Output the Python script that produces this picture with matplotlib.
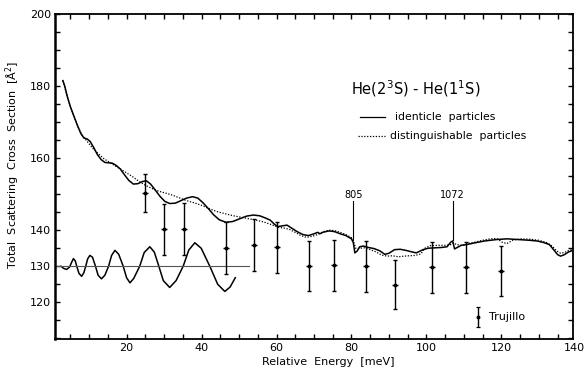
import matplotlib
matplotlib.use("Agg")
import matplotlib.pyplot as plt
from matplotlib.ticker import FixedLocator, FuncFormatter

plt.rcParams['font.family'] = ['DejaVu Sans']
plt.rcParams['mathtext.fontset'] = 'dejavusans'

# identical particles (solid)
ident_x = [3.0, 3.5, 4.2, 5.0, 6.0, 7.0, 7.8, 8.6, 9.5, 10.3, 11.2, 12.2, 13.2, 14.2,
           15.2, 16.2, 17.2, 18.3, 19.5, 20.6, 21.8, 23.0, 24.2, 25.3, 26.4, 27.6,
           28.9, 30.2, 31.5, 33.0, 34.5, 36.0, 37.6, 39.0, 40.4, 41.8, 43.2, 44.7,
           46.5, 48.3, 50.0, 52.0, 53.8, 55.5, 57.0, 58.3, 59.5, 60.4, 61.5, 62.8,
           64.0, 65.5, 67.0, 68.5, 70.0, 71.0, 71.6, 72.3, 74.0, 75.5, 77.0, 78.5,
           80.0, 80.5, 80.9, 81.5, 82.2, 83.2, 84.5, 86.0, 87.5, 88.9, 90.0, 91.5,
           93.0, 94.5, 96.0, 97.3, 99.1, 100.5, 102.2, 104.0, 105.5, 106.5, 107.0,
           107.5, 108.2, 109.3, 110.7, 113.0, 115.5, 118.7, 121.5, 124.5, 127.5,
           129.5, 131.2, 132.8, 134.0, 135.0, 135.8, 136.8, 137.8, 138.8]
ident_y = [181.5, 180.0, 177.0, 174.3, 171.5, 168.8, 166.8, 165.6, 165.3, 164.6, 163.0,
           161.0, 159.6, 158.8, 158.7, 158.6, 158.0, 157.0, 155.3, 153.8, 152.8, 152.9,
           153.5, 153.7, 152.8, 151.2, 149.4, 148.0, 147.4, 147.5, 148.2, 148.9, 149.3,
           148.9, 147.6, 146.0, 144.3, 142.9, 142.2, 142.4, 143.1, 143.9, 144.2, 144.0,
           143.4, 142.8, 141.6, 141.0, 141.2, 141.4, 140.6, 139.6, 138.8, 138.5, 139.0,
           139.4, 139.0, 139.4, 139.8, 139.6, 139.0, 138.5, 137.6, 136.5, 133.7, 134.2,
           135.4, 135.6, 135.2, 134.9, 134.3, 133.3, 133.6, 134.6, 134.7, 134.4, 134.0,
           133.7, 134.6, 135.0, 135.1, 135.2, 135.4, 136.7, 137.0, 134.8, 135.2, 135.8,
           136.0, 136.5, 137.0, 137.4, 137.6, 137.4, 137.2, 137.0, 136.6, 136.0, 134.5,
           133.2, 132.8, 133.2, 133.9, 134.3]

# distinguishable particles (dotted)
dist_x = [3.0, 4.2, 5.0, 6.0, 7.0, 8.0, 9.5, 11.0, 12.5, 14.0, 15.5, 17.0, 18.5, 20.0,
          21.8, 23.5, 25.0, 26.5, 28.0, 30.0, 32.0, 34.0, 36.0, 38.0, 40.0, 42.0, 44.0,
          46.5, 48.5, 50.5, 52.5, 54.5, 56.5, 58.5, 60.4, 62.0, 63.5, 65.0, 66.5, 68.0,
          69.5, 71.0, 72.5, 74.0, 75.5, 77.0, 78.5, 80.0, 80.7, 81.1, 81.6, 82.3, 83.5,
          85.0, 86.5, 88.0, 89.5, 91.0, 92.5, 94.0, 95.5, 97.0, 98.5, 99.6, 101.0, 103.0,
          105.0, 106.5, 107.2, 108.0, 109.5, 111.0, 113.0, 115.0, 117.0, 118.8, 120.3,
          121.5, 123.0, 125.0, 127.5, 130.0, 132.0, 133.5, 134.8, 135.8, 136.8, 137.8,
          138.8]
dist_y = [181.5, 177.0, 174.3, 171.5, 168.8, 166.6, 164.6, 162.7, 161.2, 159.8, 158.8,
          157.8, 156.9, 155.9, 154.7, 153.4, 152.5, 151.7, 151.0, 150.4, 149.8, 149.0,
          148.2, 147.6, 146.9, 146.0, 145.2, 144.5, 144.0, 143.6, 143.2, 142.8, 142.3,
          141.6, 140.8, 140.6, 140.2, 139.4, 138.5, 138.0, 138.3, 138.8, 139.6, 140.0,
          139.9, 139.4, 138.8, 137.9, 136.4, 135.0, 134.9, 135.0, 135.1, 134.6, 134.0,
          133.1, 132.8, 132.9, 132.6, 132.8, 132.9, 133.0, 133.4, 135.0, 135.7, 135.8,
          135.8, 136.0, 136.5, 136.0, 135.8, 136.3, 136.7, 137.2, 137.6, 137.7, 136.6,
          136.3, 137.2, 137.6, 137.5, 137.2, 136.6, 135.6, 134.2, 133.6, 133.8, 134.3,
          134.6]

# low-energy oscillating curve about the 130 reference level
osc_x = [2.5, 3.2, 4.0, 4.8, 5.3, 5.8, 6.3, 6.7, 7.3, 8.0, 8.6, 9.1, 9.6, 10.2, 10.9,
         11.7, 12.4, 13.3, 14.2, 15.2, 16.0, 16.9, 17.9, 19.1, 20.0, 20.9, 21.9, 23.5,
         24.7, 26.2, 27.4, 28.6, 29.8, 31.5, 33.2, 35.1, 36.6, 38.2, 39.9, 42.2, 44.3,
         46.2, 47.6, 49.0]
osc_y = [130.0, 129.4, 129.1, 129.8, 131.0, 132.1, 131.5, 130.0, 128.0, 127.2, 128.2,
         130.0, 132.0, 133.0, 132.5, 130.0, 127.5, 126.5, 127.5, 130.0, 133.0, 134.4,
         133.3, 130.0, 126.8, 125.4, 126.6, 130.0, 133.8, 135.4, 133.9, 130.0, 126.0,
         124.1, 126.0, 130.0, 134.5, 136.5, 135.0, 130.0, 125.0, 123.0, 124.2, 126.8]
ref_level = 130.0
ref_x = [0.9, 52.7]

# Trujillo measurements
meas_x = [24.9, 30.0, 35.4, 46.5, 53.9, 60.2, 68.6, 75.4, 83.8, 91.5, 101.6, 110.5, 120.0]
meas_y = [150.3, 140.2, 140.4, 135.0, 136.0, 135.2, 130.0, 130.2, 130.0, 124.9, 129.7, 129.7, 128.6]
meas_err = [5.2, 7.0, 7.2, 7.2, 7.2, 7.1, 7.0, 7.1, 7.1, 6.8, 7.1, 7.1, 7.0]

# marked resonance energies
res_x = [80.5, 107.0]
res_labels = ['805', '1072']

x_labels = [20, 40, 60, 80, 100, 120, 140]
y_labels = [120, 130, 140, 160, 180, 200]

fig = plt.figure(figsize=(5.84, 3.72), dpi=100)
ax = fig.add_axes([55 / 584, 1 - 339 / 372, 518 / 584, 325 / 372])
ax.set_xlim(0.9, 139.1)
ax.set_ylim(109.8, 200)

ax.plot(ident_x, ident_y, color='black', lw=1.1, solid_joinstyle='round')
ax.plot(dist_x, dist_y, color='black', lw=0.9, ls=(0, (1, 1.3)))
ax.plot(osc_x, osc_y, color='black', lw=1.1, solid_joinstyle='round')
ax.plot(ref_x, [ref_level, ref_level], color='#555555', lw=0.8)

ax.errorbar(meas_x, meas_y, yerr=meas_err, fmt='_', color='black', ms=5, mew=1.0,
            elinewidth=1.0, capsize=1.6, capthick=0.9)
ax.plot(meas_x, meas_y, 'o', color='black', ms=1.8)

# legend entry for the measurements
ax.errorbar([113.8], [116.0], yerr=[2.8], fmt='o', color='black', ms=1.8,
            elinewidth=1.0, capsize=1.6, capthick=0.9)
ax.text(116.6, 116.0, 'Trujillo', fontsize=8, va='center', ha='left')

for rx, lab in zip(res_x, res_labels):
    ax.plot([rx, rx], [137.4, 148.0], color='black', lw=0.8)
    ax.text(rx, 148.4, lab, fontsize=7, ha='center', va='bottom')

ax.text(80.0, 179.2, r'He(2$^3$S) - He(1$^1$S)', fontsize=10.5, ha='left', va='center')
ax.plot([82.2, 88.9], [171.5, 171.5], color='black', lw=0.9)
ax.text(91.5, 171.5, 'identicle  particles', fontsize=7.8, ha='left', va='center')
ax.plot([81.8, 88.9], [166.1, 166.1], color='black', lw=0.9, ls=(0, (1, 1.3)))
ax.text(90.4, 166.1, 'distinguishable  particles', fontsize=7.8, ha='left', va='center')

ax.set_xlabel('Relative  Energy  [meV]', fontsize=8, labelpad=1)
ax.xaxis.set_label_coords(0.527, -0.055)
ax.set_ylabel('Total  Scattering  Cross  Section  [Å$^2$]', fontsize=8)
ax.yaxis.set_label_coords(-0.063, 0.537)

ax.xaxis.set_major_locator(FixedLocator(list(range(5, 140, 5))))
ax.yaxis.set_major_locator(FixedLocator(list(range(110, 201, 5))))
ax.xaxis.set_major_formatter(FuncFormatter(lambda v, p: f'{int(round(v))}' if int(round(v)) in x_labels else ''))
ax.yaxis.set_major_formatter(FuncFormatter(lambda v, p: f'{int(round(v))}' if int(round(v)) in y_labels else ''))
ax.tick_params(direction='in', length=3.5, width=1.0, top=True, right=True,
               labelsize=8, pad=3)
ax.annotate('140', xy=(139.6, 0), xycoords=('data', 'axes fraction'),
            xytext=(0, -3), textcoords='offset points', ha='center', va='top', fontsize=8)

for side in ax.spines.values():
    side.set_linewidth(1.3)
ax.spines['left'].set_linewidth(1.8)

fig.savefig('out.png', dpi=100)
